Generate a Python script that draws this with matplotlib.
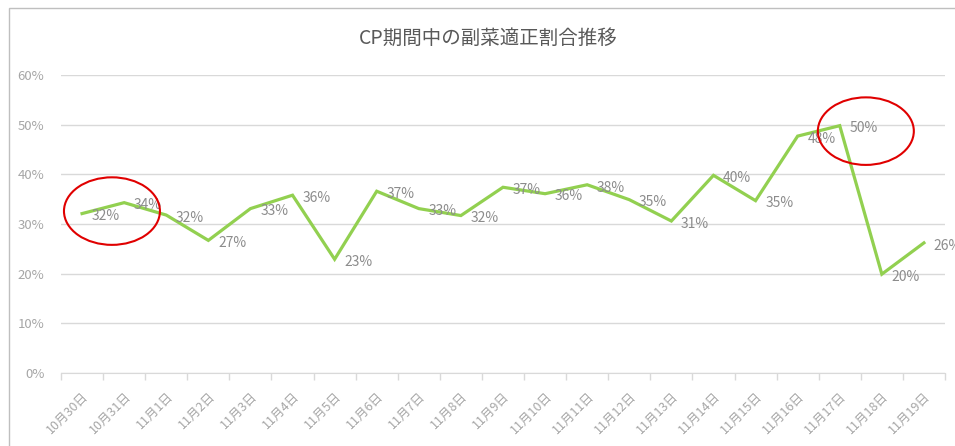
import matplotlib.pyplot as plt
from matplotlib.patches import Ellipse, Rectangle
import numpy as np

plt.rcParams['font.family'] = ['Noto Sans CJK JP', 'DejaVu Sans']

# data
dates = ['10月30日', '10月31日', '11月1日', '11月2日', '11月3日', '11月4日', '11月5日',
         '11月6日', '11月7日', '11月8日', '11月9日', '11月10日', '11月11日', '11月12日',
         '11月13日', '11月14日', '11月15日', '11月16日', '11月17日', '11月18日', '11月19日']
ratio = [32.1, 34.3, 31.8, 26.7, 33.1, 35.8, 22.9, 36.6, 33.1, 31.7, 37.4,
         36.1, 37.9, 34.9, 30.6, 39.8, 34.7, 47.7, 49.8, 19.9, 26.2]
y_ticks = [0, 10, 20, 30, 40, 50, 60]
# highlighted spots (category centre, value)
highlights = [(0.71, 32.6), (18.62, 48.7)]

fig = plt.figure(figsize=(9.55, 4.46), dpi=100)
ax = fig.add_axes([0.0639, 0.1637, 0.9256, 0.6681])

x = np.arange(len(dates))
ax.plot(x, ratio, color='#92d050', lw=2.3, solid_joinstyle='miter', zorder=3)

for xi, v in zip(x, ratio):
    ax.annotate(f'{v:.0f}%', (xi, v), xytext=(7, -2), textcoords='offset points',
                ha='left', va='center', fontsize=10, color='#8c8c8c', zorder=4)

for cx, cy in highlights:
    ax.add_patch(Ellipse((cx, cy), 2.28, 13.6, fill=False, ec='#e00000', lw=1.5,
                         clip_on=False, zorder=5))

ax.set_xlim(-0.5, len(dates) - 0.5)
ax.set_ylim(0, 60)
ax.set_yticks(y_ticks)
ax.set_yticklabels([f'{t}%' for t in y_ticks])
ax.yaxis.grid(True, color='#d9d9d9', lw=1)
ax.set_axisbelow(True)
ax.tick_params(axis='y', length=0, pad=12, labelsize=9.5, labelcolor='#a6a6a6')

ax.set_xticks(x)
ax.set_xticklabels(dates, rotation=45, ha='right', va='top', rotation_mode='anchor')
ax.tick_params(axis='x', which='major', length=0, pad=12, labelsize=9, labelcolor='#a6a6a6')
ax.set_xticks(np.arange(len(dates) + 1) - 0.5, minor=True)
ax.tick_params(axis='x', which='minor', length=5, color='#d9d9d9', width=1)

for s in ['top', 'right', 'left']:
    ax.spines[s].set_visible(False)
ax.spines['bottom'].set_color('#d9d9d9')

fig.text(0.511, 0.915, 'CP期間中の副菜適正割合推移', ha='center', va='center',
         fontsize=14, color='#595959')

# chart frame
fig.patches.append(Rectangle((0.009, -0.05), 1.1, 1.032, transform=fig.transFigure,
                             fill=False, ec='#bfbfbf', lw=1))

fig.savefig('out.png', dpi=100)
